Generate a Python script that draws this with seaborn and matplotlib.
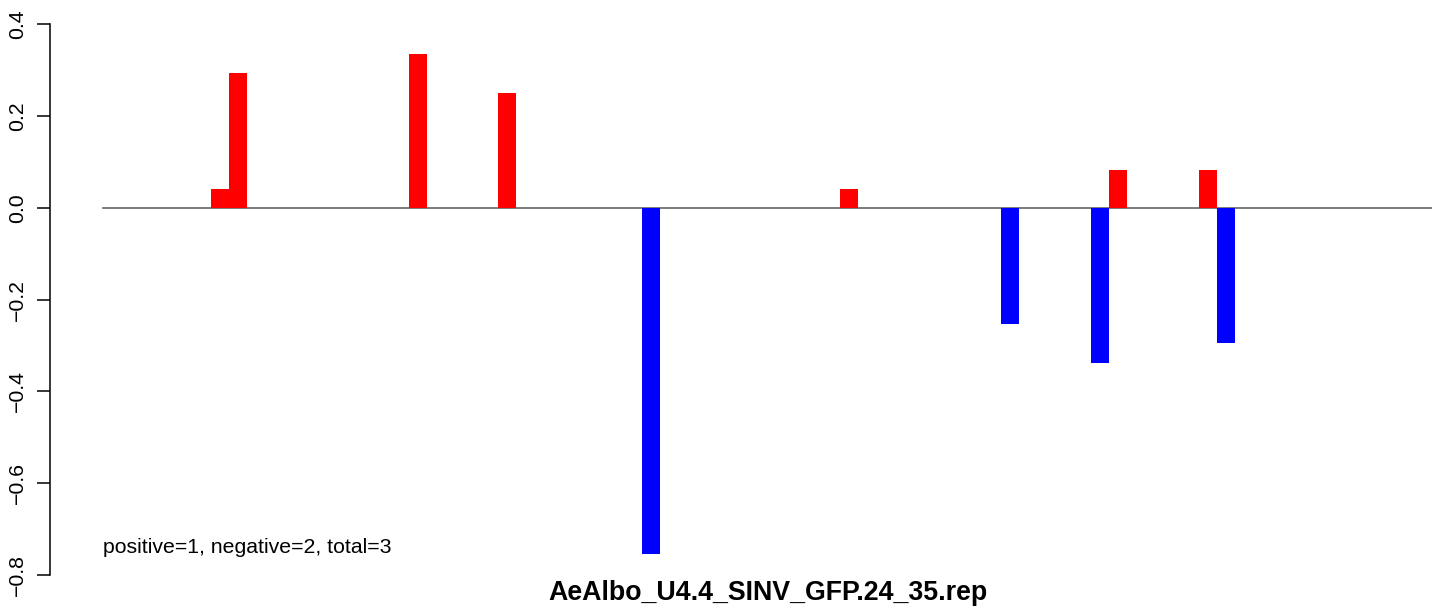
import matplotlib
matplotlib.use('Agg')
import matplotlib.pyplot as plt
import pandas as pd
import seaborn as sns

# Positions along the read and the values of each bar
positions = [7, 8, 18, 23, 31, 42, 51, 56, 57, 62, 63]
values = [0.041, 0.294, 0.336, 0.251, -0.755, 0.041, -0.252, -0.337, 0.083, 0.083, -0.294]
title = 'AeAlbo_U4.4_SINV_GFP.24_35.rep'
note = 'positive=1, negative=2, total=3'
y_ticks = [-0.8, -0.6, -0.4, -0.2, 0.0, 0.2, 0.4]

df = pd.DataFrame({'pos': positions, 'value': values})
df['strand'] = ['plus' if v > 0 else 'minus' for v in values]

plt.rcParams['font.family'] = ['Liberation Sans', 'DejaVu Sans']

fig = plt.figure(figsize=(14.44, 6.08), dpi=100)
ax = fig.add_axes([50 / 1444, 33 / 608, 1382 / 1444, 550.7 / 608])

sns.barplot(data=df, x='pos', y='value', hue='strand', native_scale=True,
            palette={'plus': '#ff0000', 'minus': '#0000ff'}, saturation=1,
            width=1, dodge=False, errorbar=None, linewidth=0, legend=False, ax=ax)

x0, x1 = -2.462, 74.47
ax.set_xlim(x0, x1)
ax.set_ylim(-0.8, 0.4)
# zero line only spans the plot region (starts at x=0.49)
ax.axhline(0, xmin=(0.488 - x0) / (x1 - x0), xmax=1.0, color='#666666', lw=1.2, zorder=0)

ax.set_xlabel('')
ax.set_ylabel('')
ax.set_xticks([])
ax.set_yticks(y_ticks)
ax.set_yticklabels([f'{t:.1f}'.replace('-', '\u2212') for t in y_ticks],
                   rotation=90, va='center', fontsize=15.3)
ax.tick_params(axis='y', length=9.5, width=1.1, pad=7, color='black')
for s in ['top', 'right', 'bottom']:
    ax.spines[s].set_visible(False)
ax.spines['left'].set_linewidth(1.1)

ax.text(0.49, -0.741, note, fontsize=15.3, va='center', ha='left')
fig.text(768 / 1444, 1 - 593 / 608, title, fontsize=19.3, fontweight='bold',
         ha='center', va='center')

fig.savefig('out.png', dpi=100)
